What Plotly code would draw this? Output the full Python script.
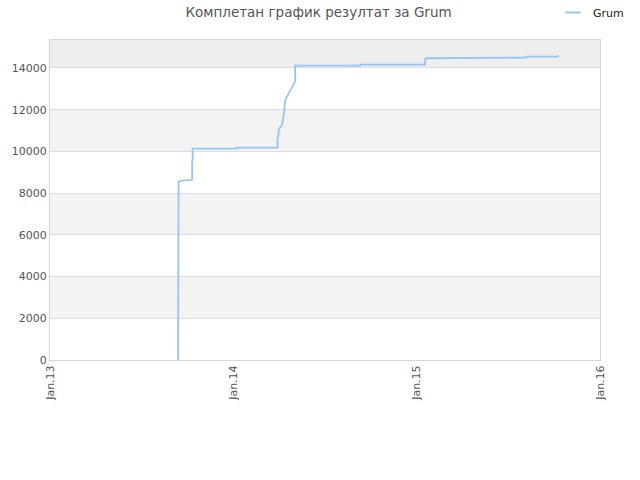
import plotly.graph_objects as go

dates = [
    "2013-09-13", "2013-09-13", "2013-09-13", "2013-09-14", "2013-09-14",
    "2013-09-20", "2013-10-11", "2013-10-11", "2013-10-12", "2013-10-12",
    "2014-01-08", "2014-01-08", "2014-03-30", "2014-03-30", "2014-04-01",
    "2014-04-01", "2014-04-03", "2014-04-08", "2014-04-11", "2014-04-14",
    "2014-04-16", "2014-04-23", "2014-04-29", "2014-05-04", "2014-05-04",
    "2014-09-11", "2014-09-11", "2015-01-18", "2015-01-18", "2015-01-20",
    "2015-01-30", "2015-04-01", "2015-04-01", "2015-08-07", "2015-08-07",
    "2015-10-09", "2015-10-09",
]
scores = [
    0, 3275, 5900, 5950, 8550,
    8600, 8630, 9500, 9600, 10130,
    10130, 10180, 10180, 10629, 10788,
    11000, 11108, 11268, 11667, 12387,
    12547, 12867, 13107, 13347, 14112,
    14112, 14160, 14160, 14430, 14465,
    14465, 14465, 14496, 14496, 14544,
    14544, 14610,
]

series_name = "Grum"
title_text = "Комплетан график резултат за Grum"
tick_dates = ["2013-01-01", "2014-01-01", "2015-01-01", "2016-01-01"]
tick_labels = ["Jan.13", "Jan.14", "Jan.15", "Jan.16"]
y_ticks = [0, 2000, 4000, 6000, 8000, 10000, 12000, 14000]
y_max = 15340
line_color = "#94c6f5"

fig = go.Figure()
fig.add_trace(go.Scatter(
    x=dates, y=scores, mode="lines", name=series_name, showlegend=False,
    line=dict(color=line_color, width=1.8),
))
# legend entry with a short line symbol
fig.add_trace(go.Scatter(
    x=[None], y=[None], mode="markers", name=series_name, showlegend=True,
    marker=dict(symbol="line-ew", size=11, line=dict(color=line_color, width=2)),
))

shapes = []
bands = [(2000, 4000, "#f3f3f3"), (6000, 8000, "#f3f3f3"),
         (10000, 12000, "#f3f3f3"), (14000, y_max, "#eeeeee")]
for y0, y1, c in bands:
    shapes.append(dict(type="rect", xref="paper", yref="y", x0=0, x1=1,
                       y0=y0, y1=y1, fillcolor=c, line_width=0, layer="below"))

fig.update_layout(
    width=640, height=480,
    margin=dict(l=50, r=40, t=40, b=120, autoexpand=False),
    paper_bgcolor="white", plot_bgcolor="white",
    font=dict(family="DejaVu Sans", size=11, color="#555555"),
    title=dict(text=title_text, x=0.4977, xanchor="center", xref="container",
               y=0.975, yanchor="middle", yref="container", automargin=False,
               font=dict(family="DejaVu Sans", size=13.5, color="#555555")),
    showlegend=True,
    legend=dict(x=0.864, y=1.13125, xref="container", yref="paper", xanchor="left", yanchor="top",
                bgcolor="rgba(0,0,0,0)", font=dict(size=11, color="#222222"),
                itemwidth=30, tracegroupgap=0, borderwidth=0),
    shapes=shapes,
    xaxis=dict(
        type="date", range=[tick_dates[0], tick_dates[-1]], automargin=False,
        tickvals=tick_dates, ticktext=tick_labels, tickangle=-90,
        showgrid=False, zeroline=False, showline=True, linecolor="#d6d6d6",
        mirror=True, ticks="", tickfont=dict(size=11, color="#555555"),
    ),
    yaxis=dict(
        range=[0, y_max], tickvals=y_ticks, tickformat="d", automargin=False,
        showgrid=True, gridcolor="#dcdcdc",
        zeroline=False, showline=True, linecolor="#d6d6d6", mirror=True,
        ticks="", tickfont=dict(size=11, color="#555555"),
    ),
)

fig.write_html("out.html", config={"displayModeBar": False},
               post_script="document.body.style.margin='0px';")
